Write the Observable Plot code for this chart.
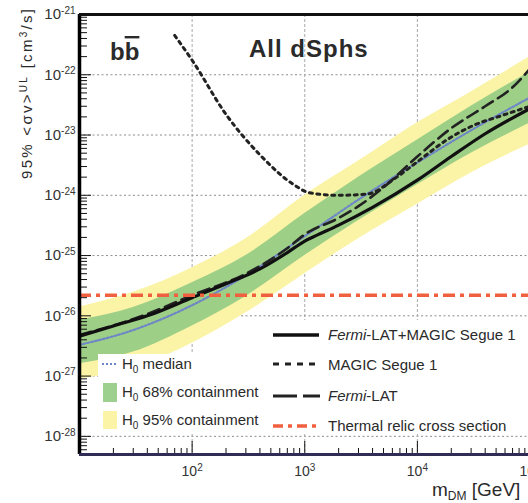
<!DOCTYPE html>
<html>
<head>
<meta charset="utf-8">
<script src="https://cdn.jsdelivr.net/npm/d3@7"></script>
<script src="https://cdn.jsdelivr.net/npm/@observablehq/plot@0.6"></script>
<style>
  html, body { margin: 0; padding: 0; background: #fff; overflow: hidden; }
  #chart { width: 528px; height: 503px; }
</style>
</head>
<body>
<div id="chart"></div>
<script>
// Upper limits on <σv> for DM annihilation into b b-bar, combined dwarf spheroidal analysis.

// Null-hypothesis (H0) expectation bands, GeV and cm^3/s
const bandMass   = [10, 30, 100, 300, 1000, 3000, 10000, 30000, 100000];
const band95Low  = [8.9e-28, 1.35e-27, 3.5e-27, 1.12e-26, 5.0e-26, 1.9e-25, 7.1e-25, 2.35e-24, 7.1e-24];
const band95High = [1.4e-26, 2.45e-26, 6.3e-26, 1.9e-25, 1.0e-24, 3.7e-24, 1.6e-23, 5.2e-23, 2.0e-22];
const band68Low  = [1.6e-27, 2.5e-27, 6.8e-27, 2.1e-26, 1.0e-25, 3.8e-25, 1.5e-24, 5.0e-24, 1.58e-23];
const band68High = [8.5e-27, 1.38e-26, 3.55e-26, 1.0e-25, 5.0e-25, 2.0e-24, 8.3e-24, 3.0e-23, 1.12e-22];
const medianH0   = [3.3e-27, 5.8e-27, 1.5e-26, 4.7e-26, 2.1e-25, 8.5e-25, 3.5e-24, 1.2e-23, 4.2e-23];

// Fermi-LAT + MAGIC Segue 1 combined limit
const combinedMass  = [10, 20, 40, 100, 200, 400, 700, 1000, 1300, 2000, 4000, 10000, 20000, 40000, 100000];
const combinedLimit = [4.6e-27, 6.8e-27, 1.0e-26, 2.0e-26, 3.4e-26, 6.0e-26, 1.12e-25, 1.74e-25, 2.2e-25, 3.2e-25, 6.3e-25, 1.78e-24, 4.4e-24, 1.05e-23, 2.75e-23];

// MAGIC Segue 1 alone
const magicMass  = [70, 100, 200, 400, 800, 1100, 2000, 3600, 6300, 10000, 18600, 31600, 56000, 100000];
const magicLimit = [4.5e-22, 1.74e-22, 2.2e-23, 4.7e-24, 1.5e-24, 1.1e-24, 1.0e-24, 1.05e-24, 1.9e-24, 3.6e-24, 8.5e-24, 1.45e-23, 2.1e-23, 3.0e-23];

// Fermi-LAT alone
const fermiMass  = [10, 40, 100, 300, 700, 1000, 2000, 3000, 5000, 10000, 20000, 40000, 70000, 100000];
const fermiLimit = [4.8e-27, 1.07e-26, 2.2e-26, 5.0e-26, 1.32e-25, 2.24e-25, 4.2e-25, 6.6e-25, 1.35e-24, 4.4e-24, 1.3e-23, 3.0e-23, 6.2e-23, 1.26e-22];

// Thermal relic cross section
const relicCrossSection = 2.2e-26;

// Axes
const xDomain = [10, 1e5];
const yDomain = [5e-29, 1e-21];
const xTicks = [100, 1000, 10000, 100000];
const yTicks = [1e-28, 1e-27, 1e-26, 1e-25, 1e-24, 1e-23, 1e-22, 1e-21];

const minorOf = (lo, hi) => {
  const out = [];
  for (let e = lo; e < hi; e++) for (let k = 2; k <= 9; k++) out.push(k * Math.pow(10, e));
  return out;
};
const xMinor = minorOf(1, 5);
const yMinor = minorOf(-29, -21).filter(v => v >= yDomain[0] && v <= yDomain[1]);

const rows = (xs, ys) => xs.map((m, i) => ({m, v: ys[i]}));
const bandRows = bandMass.map((m, i) => ({
  m, lo95: band95Low[i], hi95: band95High[i], lo68: band68Low[i], hi68: band68High[i], med: medianH0[i]
}));

const W = 528, H = 503;
const mL = 79, mR = -1.5, mT = 14, mB = 49;
const frameW = W - mL - mR, frameH = H - mT - mB;
const expFormat = d => "10^" + Math.round(Math.log10(d));

const svg = Plot.plot({
  width: W, height: H,
  marginLeft: mL, marginRight: mR, marginTop: mT, marginBottom: mB,
  style: {fontFamily: "'Liberation Sans', Arial, sans-serif", fontSize: "14px", color: "#333", background: "#fff"},
  x: {type: "log", domain: xDomain},
  y: {type: "log", domain: yDomain},
  marks: [
    // grid
    Plot.ruleY(yTicks.slice(0, -1), {stroke: "#8c8c8c", strokeDasharray: "2,2.5"}),
    Plot.ruleX(xTicks.slice(0, -1), {stroke: "#a8a8a8", strokeDasharray: "3,2"}),
    // H0 bands and median
    Plot.areaY(bandRows, {x: "m", y1: "lo95", y2: "hi95", fill: "#fbf4a6", curve: "monotone-x"}),
    Plot.areaY(bandRows, {x: "m", y1: "lo68", y2: "hi68", fill: "#9dcf86", curve: "monotone-x"}),
    Plot.lineY(bandRows, {x: "m", y: "med", stroke: "#6f86c6", strokeWidth: 2.2, strokeDasharray: "2,2", curve: "monotone-x"}),
    // limits
    Plot.lineY(rows(fermiMass, fermiLimit), {x: "m", y: "v", stroke: "#222", strokeWidth: 2.6, strokeDasharray: "12,6", curve: "monotone-x"}),
    Plot.lineY(rows(magicMass, magicLimit), {x: "m", y: "v", stroke: "#222", strokeWidth: 3, strokeDasharray: "3,4.5", curve: "monotone-x"}),
    Plot.lineY(rows(combinedMass, combinedLimit), {x: "m", y: "v", stroke: "#111", strokeWidth: 3.2, curve: "monotone-x"}),
    Plot.ruleY([relicCrossSection], {stroke: "#f0603f", strokeWidth: 3.5, strokeDasharray: "12,5,4,5"}),
    // inward ticks
    Plot.tickY(yMinor, {y: d => d, insetRight: frameW - 8, stroke: "#111"}),
    Plot.tickY(yTicks, {y: d => d, insetRight: frameW - 12, stroke: "#111"}),
    Plot.tickX(xMinor, {x: d => d, insetTop: frameH - 6, stroke: "#111"}),
    Plot.tickX(xTicks, {x: d => d, insetTop: frameH - 13, stroke: "#111"}),
    // frame
    Plot.ruleX([xDomain[0]], {stroke: "#000", strokeWidth: 3.5}),
    Plot.ruleY([yDomain[1]], {stroke: "#111", strokeWidth: 3}),
    Plot.ruleY([yDomain[0]], {stroke: "#2f2d55", strokeWidth: 3}),
    // axes
    Plot.axisY({ticks: yTicks, tickSize: 0, tickPadding: 4, tickFormat: expFormat, label: null, fontSize: 15}),
    Plot.axisX({ticks: xTicks, tickSize: 0, tickPadding: 12, tickFormat: expFormat, label: null, fontSize: 14})
  ]
});

// superscript exponents on tick labels
d3.select(svg).selectAll('g[aria-label="y-axis tick label"] text, g[aria-label="x-axis tick label"] text').each(function () {
  const t = d3.select(this);
  const [base, exp] = t.text().split("^");
  t.text(base);
  t.append("tspan").attr("dy", "-0.55em").attr("font-size", "10px").text(exp);
});

const root = d3.select(svg);
const font = "'Liberation Sans', Arial, sans-serif";
const ink = "#2a2a2a";

// legend panel: white backgrounds over grid and bands
const panel = root.append("g").attr("text-anchor", "start");
panel.append("rect").attr("x", 98).attr("y", 354).attr("width", 172).attr("height", 79).attr("fill", "#fff");
panel.append("rect").attr("x", 268).attr("y", 320).attr("width", 262).attr("height", 113).attr("fill", "#fff");

const txt = (x, y, size, weight) => panel.append("text")
  .attr("x", x).attr("y", y).attr("text-anchor", "start")
  .attr("font-family", font).attr("font-size", size)
  .attr("font-weight", weight || "normal").attr("fill", ink);

// channel and target labels
const bb = txt(110, 60, 24, "bold");
bb.append("tspan").text("b");
bb.append("tspan").attr("text-decoration", "overline").style("text-decoration", "overline").text("b");
txt(249, 57, 24, "bold").attr("letter-spacing", 1).text("All dSphs");

// axis titles
const xt = txt(432, 496, 19);
xt.append("tspan").text("m");
xt.append("tspan").attr("dy", 4).attr("font-size", 12).text("DM");
xt.append("tspan").attr("dy", -4).text(" [GeV]");

const yt = panel.append("text").attr("transform", "translate(32,94) rotate(-90)")
  .attr("text-anchor", "middle").attr("font-family", font).attr("font-size", 15).attr("fill", ink)
  .attr("textLength", 170).attr("lengthAdjust", "spacing");
yt.append("tspan").text("95% <σv>");
yt.append("tspan").attr("dy", -5).attr("font-size", 10).text("UL");
yt.append("tspan").attr("dy", 5).text(" [cm");
yt.append("tspan").attr("dy", -5).attr("font-size", 10).text("3");
yt.append("tspan").attr("dy", 5).text("/s]");

// left legend: H0 expectations
const line = (x1, x2, y, stroke, w, dash) => panel.append("line")
  .attr("x1", x1).attr("x2", x2).attr("y1", y).attr("y2", y)
  .attr("stroke", stroke).attr("stroke-width", w).attr("stroke-dasharray", dash || null);
const h0 = (y, rest) => {
  const t = txt(122, y, 15);
  t.append("tspan").text("H");
  t.append("tspan").attr("dy", 4).attr("font-size", 10).text("0");
  t.append("tspan").attr("dy", -4).text(" " + rest);
};
line(102, 118, 364, "#6f86c6", 2, "2,2");
h0(369, "median");
panel.append("rect").attr("x", 103).attr("y", 383).attr("width", 14).attr("height", 19).attr("fill", "#9dcf8f");
h0(397, "68% containment");
panel.append("rect").attr("x", 103).attr("y", 411).attr("width", 14).attr("height", 18).attr("fill", "#fbf4a6");
h0(425, "95% containment");

// right legend: limits
line(273, 319, 335, "#111", 3.5);
const l1 = txt(328, 340, 15);
l1.append("tspan").attr("font-style", "italic").text("Fermi");
l1.append("tspan").text("-LAT+MAGIC Segue 1");
line(273, 319, 364, "#222", 3, "6,6");
txt(328, 370, 15).text("MAGIC Segue 1");
line(273, 320, 396, "#222", 3, "24,6");
const l3 = txt(328, 401, 15);
l3.append("tspan").attr("font-style", "italic").text("Fermi");
l3.append("tspan").text("-LAT");
line(273, 320, 426, "#f0603f", 3.5, "10,5,4,5");
txt(328, 431, 15).text("Thermal relic cross section");

document.getElementById("chart").appendChild(svg);
</script>
</body>
</html>
